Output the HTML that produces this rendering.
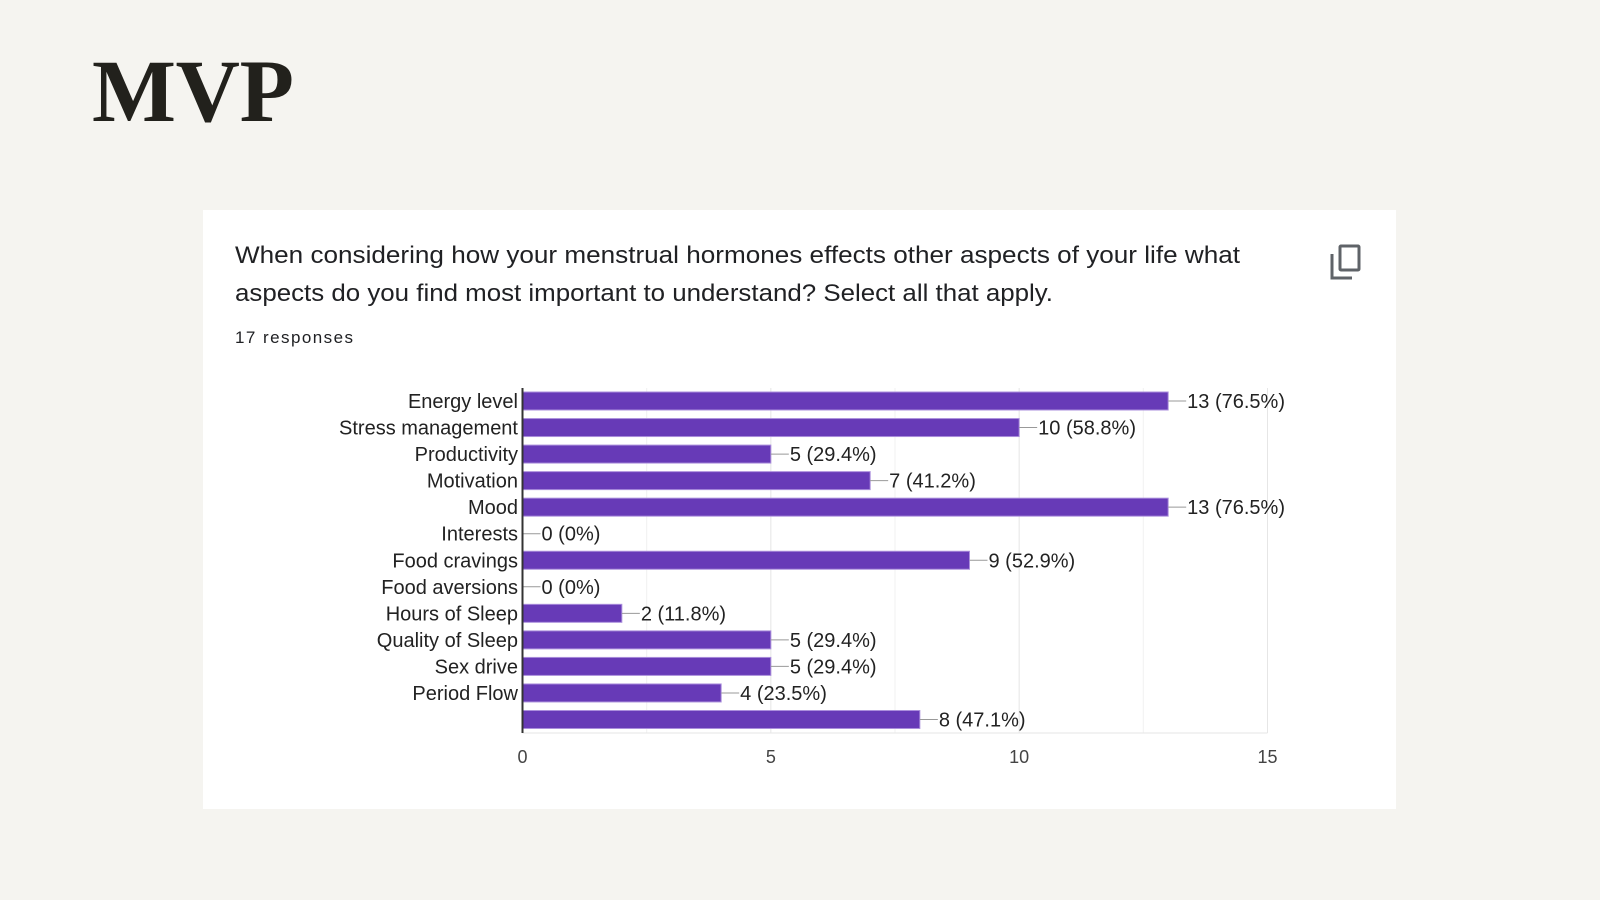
<!DOCTYPE html>
<html><head><meta charset="utf-8"><style>
html,body{margin:0;padding:0;background:#f5f4f0;}
svg{display:block}
</style></head><body>
<svg width="1600" height="900" viewBox="0 0 1600 900" xmlns="http://www.w3.org/2000/svg">
<rect x="0" y="0" width="1600" height="900" fill="#f5f4f0"/>
<text x="92" y="121" font-family="Liberation Serif, serif" font-weight="bold" font-size="89" fill="#22211c" textLength="202">MVP</text>
<rect x="203" y="210" width="1193" height="599" fill="#ffffff"/>
<text x="235" y="263" font-family="Liberation Sans, sans-serif" font-size="24" fill="#202124" textLength="1005" lengthAdjust="spacingAndGlyphs">When considering how your menstrual hormones effects other aspects of your life what</text>
<text x="235" y="301" font-family="Liberation Sans, sans-serif" font-size="24" fill="#202124" textLength="818" lengthAdjust="spacingAndGlyphs">aspects do you find most important to understand? Select all that apply.</text>
<text x="235" y="343" font-family="Liberation Sans, sans-serif" font-size="17" fill="#202124" textLength="118">17 responses</text>
<g fill="none" stroke="#5f6368" stroke-width="3">
<rect x="1340" y="246" width="19" height="24" rx="1"/>
<path d="M1332 254 V278 H1352"/>
</g>
<g id="chart"></g>
</svg>
<script>
const categories=["Energy level","Stress management","Productivity","Motivation","Mood","Interests","Food cravings","Food aversions","Hours of Sleep","Quality of Sleep","Sex drive","Period Flow",""];
const counts=[13,10,5,7,13,0,9,0,2,5,5,4,8];
const percents=["76.5%","58.8%","29.4%","41.2%","76.5%","0%","52.9%","0%","11.8%","29.4%","29.4%","23.5%","47.1%"];
const xTicks=[0,5,10,15];
const NS="http://www.w3.org/2000/svg";
const g=document.getElementById('chart');
const x0=522.5,x1=1267.5,xMax=15,yTop=388,yBottom=733;
const sx=v=>x0+(x1-x0)*v/xMax;
const firstY=401,step=(719.5-401)/(categories.length-1);
const sy=i=>firstY+step*i;
function mk(t,a){const e=document.createElementNS(NS,t);for(const k in a)e.setAttribute(k,a[k]);g.appendChild(e);return e;}
for(let v=2.5;v<=xMax;v+=2.5){
const l=mk('line',{x1:sx(v),x2:sx(v),y1:yTop,y2:yBottom,stroke:v%5===0?'#e6e6e6':'#f1f1f1','stroke-width':1});


}
const bl=mk('line',{x1:x0,x2:x1,y1:yBottom,y2:yBottom,stroke:'#e6e6e6'});


xTicks.forEach(v=>{
const t=mk('text',{x:sx(v),y:763,'text-anchor':'middle','font-family':'Liberation Sans, sans-serif','font-size':18,fill:'#444'});
t.textContent=v;


});
categories.forEach((c,i)=>{
const y=sy(i),v=counts[i];
if(v>0){
const r=mk('rect',{x:x0,y:y-9,width:sx(v)-x0,height:18,fill:'#673ab7',stroke:'#ab8fdc','stroke-width':1});


}
const ex=sx(v);
const ln=mk('line',{x1:ex,x2:ex+18,y1:y,y2:y,stroke:'#999','stroke-width':1});


const vt=mk('text',{x:ex+19,y:y+7,'font-family':'Liberation Sans, sans-serif','font-size':20,fill:'#222'});
vt.textContent=v+' ('+percents[i]+')';


if(c){
const ct=mk('text',{x:518,y:y+7,'text-anchor':'end','font-family':'Liberation Sans, sans-serif','font-size':20,fill:'#222'});
ct.textContent=c;


}
});
const ax=mk('line',{x1:x0,x2:x0,y1:yTop,y2:yBottom,stroke:'#333','stroke-width':2});


</script>
</body></html>
